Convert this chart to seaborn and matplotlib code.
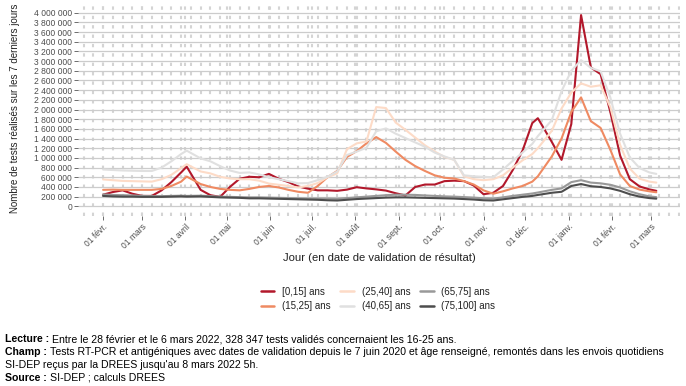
import pandas as pd
import matplotlib
matplotlib.use("Agg")
import matplotlib.pyplot as plt
from matplotlib.lines import Line2D
from matplotlib.ticker import FuncFormatter
import seaborn as sns

# reading dates (mostly weekly, two moved onto peaks) and tests over the last 7 days, in thousands
dates = list(pd.date_range("2021-02-01", "2022-02-28", freq="7D")) + [pd.Timestamp("2022-03-05")]
dates[9] = pd.Timestamp("2021-04-02")
dates[45] = pd.Timestamp("2021-12-10")

age_0_15 = [240, 295, 330, 260, 215, 215, 330, 500, 700, 820, 340, 230, 195, 400, 570, 610, 600, 670, 570, 500,
            410, 365, 330, 330, 320, 345, 395, 370, 350, 325, 270, 225, 400, 450, 450, 520, 530, 520, 430, 250,
            280, 420, 750, 1150, 1720, 1820, 1330, 960, 1700, 3950, 2870, 2730, 1950, 1050, 560, 410, 350, 320]
age_15_25 = [340, 345, 340, 340, 340, 340, 360, 420, 510, 615, 460, 400, 360, 340, 330, 360, 400, 420, 390, 340,
             300, 280, 420, 600, 730, 1020, 1140, 1300, 1430, 1310, 1130, 960, 830, 730, 640, 590, 575, 520, 450, 330,
             260, 310, 370, 420, 510, 620, 1030, 1400, 1950, 2250, 1760, 1620, 1170, 660, 420, 345, 310, 290]
age_25_40 = [555, 540, 525, 520, 515, 510, 560, 650, 790, 870, 720, 680, 610, 575, 560, 560, 530, 470, 445, 420,
             390, 420, 480, 600, 680, 1180, 1300, 1340, 2050, 2030, 1730, 1580, 1420, 1260, 1130, 1020, 960, 620, 560, 540,
             560, 640, 800, 950, 1080, 1200, 1560, 2020, 2350, 2540, 2470, 2500, 2050, 1270, 780, 570, 510, 490]
age_40_65 = [760, 750, 740, 735, 730, 730, 800, 930, 1080, 1150, 990, 930, 830, 740, 690, 700, 660, 600, 560, 520,
             475, 480, 540, 610, 720, 1060, 1130, 1210, 1550, 1610, 1500, 1410, 1320, 1230, 1110, 1030, 960, 640, 620, 610,
             600, 760, 940, 1110, 1290, 1450, 1780, 2380, 2800, 3020, 2860, 2790, 2250, 1500, 1010, 790, 700, 670]
age_65_75 = [245, 235, 230, 225, 215, 210, 210, 215, 220, 215, 220, 210, 200, 195, 190, 185, 185, 180, 175, 170,
             165, 160, 160, 160, 155, 170, 185, 200, 215, 230, 240, 240, 235, 225, 215, 205, 200, 190, 180, 165,
             160, 185, 215, 240, 265, 285, 340, 370, 500, 540, 490, 475, 445, 390, 310, 250, 205, 190]
age_75_100 = [215, 205, 200, 200, 195, 195, 195, 200, 205, 200, 205, 195, 185, 180, 175, 165, 165, 160, 155, 150,
              145, 140, 135, 125, 120, 135, 150, 160, 170, 180, 185, 185, 180, 175, 170, 165, 160, 150, 140, 125,
              120, 145, 170, 195, 215, 235, 280, 300, 420, 460, 415, 400, 370, 320, 250, 200, 170, 158]

ages = ["[0,15] ans", "(15,25] ans", "(25,40] ans", "(40,65] ans", "(65,75] ans", "(75,100] ans"]
colors = ["#b2182b", "#ef8a62", "#fddbc7", "#e0e0e0", "#999999", "#4d4d4d"]

month_ticks = pd.date_range("2021-02-01", "2022-03-01", freq="MS")
month_labels = ["01 févr.", "01 mars", "01 avril", "01 mai", "01 juin", "01 juil.", "01 août",
                "01 sept.", "01 oct.", "01 nov.", "01 déc.", "01 janv.", "01 févr.", "01 mars"]

xlabel = "Jour (en date de validation de résultat)"
ylabel = "Nombre de tests réalisés sur les 7 derniers jours"
caption = [
    ("Lecture : ", "Entre le 28 février et le 6 mars 2022, 328 347 tests validés concernaient les 16-25 ans."),
    ("Champ : ", "Tests RT-PCR et antigéniques avec dates de validation depuis le 7 juin 2020 et âge renseigné, "
                 "remontés dans les envois quotidiens"),
    ("", "SI-DEP reçus par la DREES jusqu'au 8 mars 2022 5h."),
    ("Source : ", "SI-DEP ; calculs DREES"),
]

series = [age_0_15, age_15_25, age_25_40, age_40_65, age_65_75, age_75_100]
df = pd.concat([pd.DataFrame({"date": dates, "tests": [v * 1000 for v in vals], "age": name})
                for name, vals in zip(ages, series)], ignore_index=True)

sns.set_theme(style="white")
plt.rcParams["font.family"] = ["Liberation Sans", "DejaVu Sans"]

W, H = 686, 386
fig = plt.figure(figsize=(W / 100, H / 100), dpi=100)
fig.canvas.draw()
renderer = fig.canvas.get_renderer()


def px_per_pt(s, **kw):
    # width in pixels of the string per point of font size
    t = fig.text(0, 0, s, fontsize=10, **kw)
    w = t.get_window_extent(renderer).width
    t.remove()
    return w / 10


tick_fs = 38 / px_per_pt("4 000 000")
xlab_fs = 194 / px_per_pt(xlabel)
ylab_fs = 211 / px_per_pt(ylabel)
cap_fs = 0.985 * 672 / (px_per_pt(caption[1][0], fontweight="bold") + px_per_pt(caption[1][1]))

ax = fig.add_axes([78 / W, 1 - 216 / H, (680 - 78) / W, (216 - 3) / H])

# background grid: weekly dashed verticals + horizontal lines every 200 000
for d in list(pd.date_range("2021-01-11", "2022-03-21", freq="7D")) + list(month_ticks):
    ax.axvline(d, color="#d4d4d4", lw=1.5, ls=(0, (1.6, 2.9)), zorder=0)
ax.set_yticks(range(0, 4000001, 200000))
ax.yaxis.grid(True, color="#cccccc", lw=0.9, zorder=0)

sns.lineplot(data=df, x="date", y="tests", hue="age", hue_order=ages,
             palette=dict(zip(ages, colors)), lw=1.5, legend=False, ax=ax, zorder=3)

ax.set_ylim(-200000, 4200000)
ax.set_xlim(pd.Timestamp("2021-01-14"), pd.Timestamp("2022-03-22"))
ax.yaxis.set_major_formatter(FuncFormatter(lambda v, p: f"{int(v):,}".replace(",", " ")))
ax.set_xticks(month_ticks)
ax.set_xticklabels(month_labels, rotation=45, ha="right", rotation_mode="anchor")
for s in ax.spines.values():
    s.set_visible(False)
ax.tick_params(axis="both", bottom=True, left=True, length=3, width=0.6, color="#555555",
               labelsize=tick_fs, labelcolor="#4d4d4d", pad=1.2)
ax.tick_params(axis="x", pad=1.5)
ax.set_xlabel("")
ax.set_ylabel("")
fig.text(379 / W, 1 - 258 / H, xlabel, fontsize=xlab_fs, color="#222222", ha="center", va="center")
fig.text(15 / W, 1 - 108 / H, ylabel, fontsize=ylab_fs, color="#222222", ha="center", va="center", rotation=90)

handles = [Line2D([0], [0], color=c, lw=1.8) for c in colors]
fig.legend(handles, ages, loc="center", bbox_to_anchor=(378 / W, 1 - 299 / H), ncol=3,
           frameon=False, fontsize=7, handlelength=1.4, handletextpad=0.8, columnspacing=1.0,
           labelspacing=0.45, labelcolor="#222222")

# caption lines: bold lead word followed by regular text
y_px = 339
for bold, rest in caption:
    x_px = 5
    if bold:
        t = fig.text(x_px / W, 1 - y_px / H, bold, fontsize=cap_fs, fontweight="bold", va="center", color="black")
        x_px += t.get_window_extent(renderer).width
    fig.text(x_px / W, 1 - y_px / H, rest, fontsize=cap_fs, va="center", color="black")
    y_px += 13

fig.savefig("out.png", dpi=100)
